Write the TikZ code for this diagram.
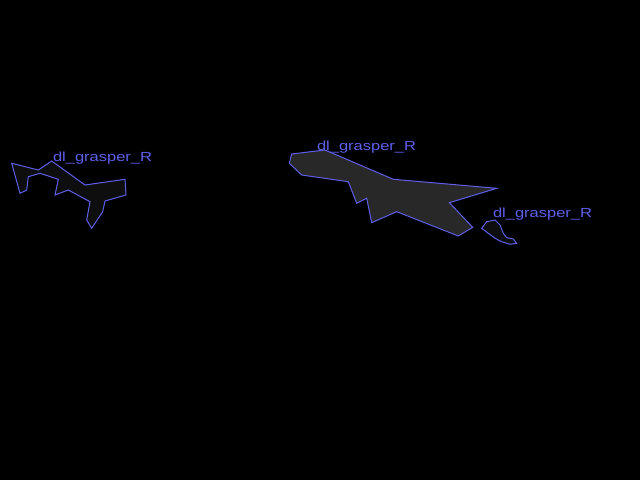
\documentclass[tikz,border=0pt]{standalone}
\usepackage{fontspec}
\setmainfont{Liberation Sans}
\usetikzlibrary{positioning}
\definecolor{maskBlue}{RGB}{95, 95, 235}
\definecolor{maskFill}{RGB}{40, 40, 40}
\definecolor{maskFaint}{RGB}{14, 14, 14}

\begin{document}
\begin{tikzpicture}[
        x=0.5pt, y=-0.5pt,
        outline/.style={draw=maskBlue, line width=0.5pt, line join=miter},
        tag/.style={anchor=base west, inner sep=0pt, text=maskBlue, xscale=1.25, font=\fontsize{6.6}{7}\selectfont},
    ]
        % Background
        \fill[black] (0,0) rectangle (640,480);

        % Left grasper
        \draw[outline, fill=maskFaint] (11.7,163.3) -- (38.3,170) -- (51.7,161) -- (85,185) -- (125,179.3) -- (126,195) -- (105,201) -- (102.7,211.7) -- (91.7,228.3) -- (86.7,220) -- (90,201.7) -- (68.3,190) -- (55,195) -- (58.3,179.3) -- (40,173.3) -- (28.3,176.7) -- (26.7,190) -- (20,193.3) -- cycle;
        \node[tag] (labelA) at (52.5,161.5) {dl\_grasper\_R};

        % Middle grasper
        \draw[outline, fill=maskFill] (291.7,154) -- (325,150) -- (393.3,179.3) -- (496.7,188.3) -- (449.3,202.7) -- (472.7,227.3) -- (458.3,236) -- (396.7,211.7) -- (371.7,222.7) -- (366.7,198.3) -- (356.7,203.3) -- (348.3,181.7) -- (301.7,175) -- (289.3,163.3) -- cycle;
        \node[tag] (labelB) at (316.5,150.5) {dl\_grasper\_R};

        % Right grasper
        \draw[outline, fill=maskFaint] (481.7,228.3) -- (486.7,221.7) -- (495,220) -- (500,225) -- (503.3,233.3) -- (506.7,237.7) -- (513.3,239) -- (516.7,243.3) -- (510,244.3) -- (501.7,241.7) -- (495,238.3) -- (488.3,233.3) -- cycle;
        \node[tag] (labelC) at (492.5,218) {dl\_grasper\_R};

    \end{tikzpicture}
\end{document}
